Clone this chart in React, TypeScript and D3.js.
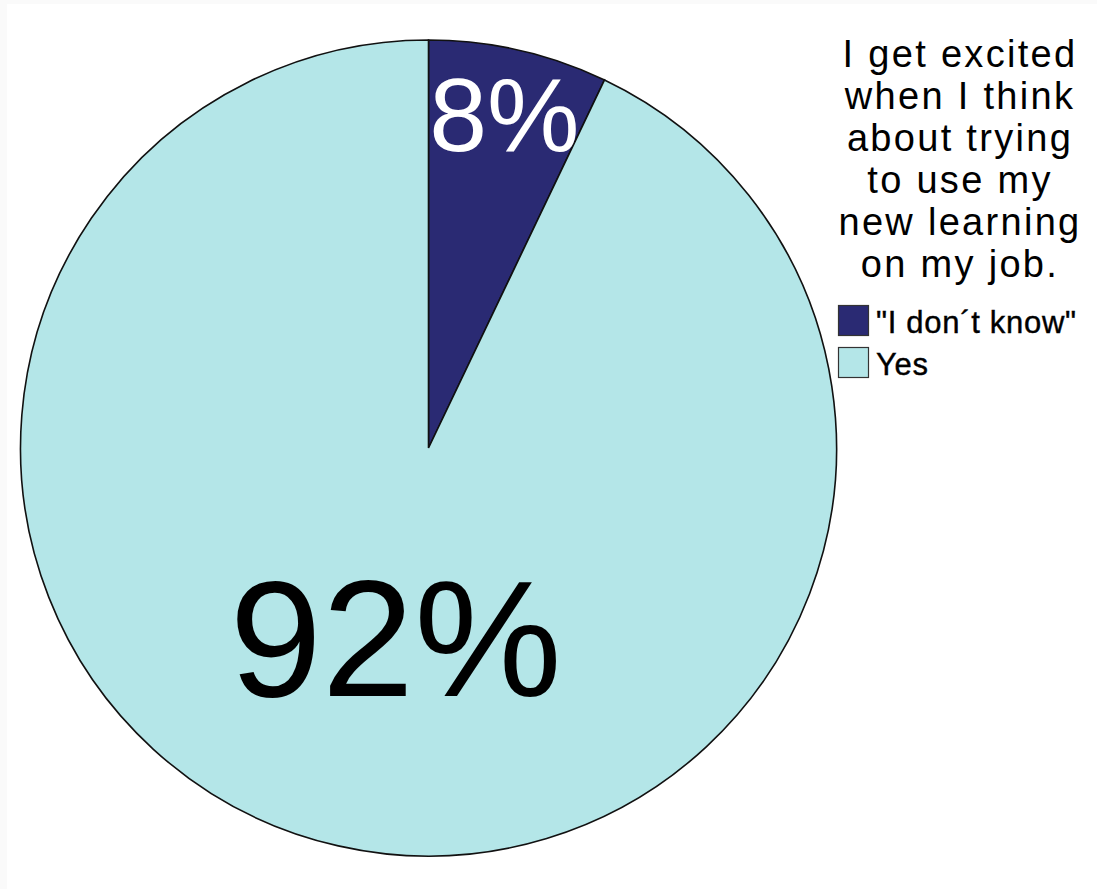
import React from "react";
import * as d3 from "d3";

const categories = ['"I don´t know"', "Yes"];
const shares = [7.1, 92.9];
const sliceLabels = ["8%", "92%"];
const colors = ["#2a2a73", "#b4e6e8"];
const labelColors = ["#ffffff", "#000000"];
const titleLines = [
  "I get excited",
  "when I think",
  "about trying",
  "to use my",
  "new learning",
  "on my job.",
];

const W = 1097;
const H = 889;
const CX = 428.5;
const CY = 448;
const R = 408;
const labelRadiusFactor = [0.84, 0.475];
const labelDx = [0, 10];
const labelFontSize = [104, 166];
const FONT = "'Liberation Sans', Arial, Helvetica, sans-serif";

export default function App() {
  const pie = d3
    .pie<number>()
    .sort(null)
    .value((d) => d)
    .startAngle(0)
    .endAngle(2 * Math.PI);
  const arcs = pie(shares);
  const arcGen = d3.arc<d3.PieArcDatum<number>>().innerRadius(0).outerRadius(R);

  return (
    <svg
      width={W}
      height={H}
      style={{ position: "absolute", left: 0, top: 0, background: "#ffffff" }}
      fontFamily={FONT}
    >
      <rect x={0} y={0} width={W} height={H} fill="#fafafa" />
      <rect x={7} y={4} width={W - 7} height={H - 4} fill="#ffffff" />
      <g transform={`translate(${CX},${CY})`}>
        {arcs.map((a, i) => (
          <path
            key={i}
            d={arcGen(a) || ""}
            fill={colors[i]}
            stroke="#111"
            strokeWidth={1.6}
          />
        ))}
        {arcs.map((a, i) => {
          const mid = (a.startAngle + a.endAngle) / 2;
          const rr = R * labelRadiusFactor[i];
          const x = rr * Math.sin(mid) + labelDx[i];
          const y = -rr * Math.cos(mid);
          const fs = labelFontSize[i];
          return (
            <text
              key={"l" + i}
              x={x}
              y={y + fs * 0.358}
              textAnchor="middle"
              fontSize={fs}
              fill={labelColors[i]}
            >
              {sliceLabels[i]}
            </text>
          );
        })}
      </g>
      <g>
        {titleLines.map((t, i) => (
          <text
            key={t}
            x={960}
            y={67 + i * 42}
            textAnchor="middle"
            fontSize={38}
            letterSpacing={2.3}
            fill="#000"
          >
            {t}
          </text>
        ))}
      </g>
      <g>
        {categories.map((c, i) => (
          <g key={c} transform={`translate(838,${305 + i * 42})`}>
            <rect
              x={0.5}
              y={0.5}
              width={30}
              height={30}
              fill={colors[i]}
              stroke="#333"
              strokeWidth={1.2}
            />
            <text
              x={38}
              y={28}
              fontSize={31}
              letterSpacing={0.7}
              stroke="#000"
              strokeWidth={0.4}
              fill="#000"
            >
              {c}
            </text>
          </g>
        ))}
      </g>
    </svg>
  );
}
